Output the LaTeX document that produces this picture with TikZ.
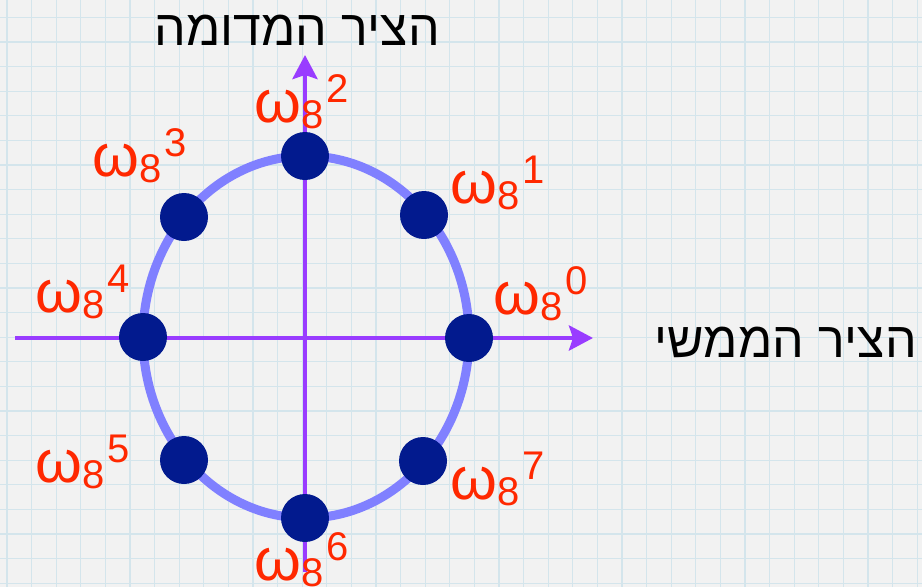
\documentclass[tikz,border=0pt]{standalone}
\usepackage{fontspec}
\setmainfont{Liberation Sans}
\usepackage{tikz}
\usetikzlibrary{arrows.meta}
\TeXXeTstate=1

\definecolor{paper}{RGB}{242,242,242}
\definecolor{gridblue}{RGB}{212,229,236}
\definecolor{ringblue}{RGB}{128,128,255}
\definecolor{dotnavy}{RGB}{2,26,142}
\definecolor{axispurple}{RGB}{153,60,255}
\definecolor{rootred}{RGB}{255,40,0}

% omega_8^k as the slide sets it
\newcommand{\wroot}[1]{\fontsize{60}{60}\selectfont ω\raisebox{-6pt}{\fontsize{40}{40}\selectfont 8}\kern3pt\raisebox{20pt}{\fontsize{40}{40}\selectfont #1}}

\tikzset{
  gridline/.style={gridblue, line width=1.3pt},
  ring/.style={ringblue, line width=9pt},
  axisline/.style={axispurple, line width=4.5pt, -{Stealth[length=24pt,width=25pt,inset=4pt]}},
  unitdot/.style={circle, fill=dotnavy, minimum size=48pt, inner sep=0pt},
  rootlabel/.style={rootred, anchor=base west, inner sep=0pt},
  axistext/.style={anchor=base east, inner sep=0pt, font=\fontsize{50}{50}\selectfont}
}

\begin{document}
\begin{tikzpicture}[x=1pt,y=-1pt]
\useasboundingbox (0,0) rectangle (922,587);
\fill[paper] (0,0) rectangle (922,587);
\foreach \gx in {0,...,37} \draw[gridline] ({7+24.6*\gx},0) -- ({7+24.6*\gx},587);
\foreach \gy in {0,...,23} \draw[gridline] (0,{17.4+24.6*\gy}) -- (922,{17.4+24.6*\gy});

% unit circle
\draw[ring] (306,337) ellipse [x radius=163, y radius=181];

% axes
\coordinate (xl) at (15,338);
\coordinate (xr) at (593,338);
\coordinate (yb) at (305,572);
\coordinate (yt) at (305,55);
\draw[axisline] (xl) -- (xr);
\draw[axisline] (yb) -- (yt);

% the eight roots
\node[unitdot] (r0) at (469,338) {};
\node[unitdot] (r1) at (424,215) {};
\node[unitdot] (r2) at (305,156) {};
\node[unitdot] (r3) at (184,217) {};
\node[unitdot] (r4) at (143,337) {};
\node[unitdot] (r5) at (184,460) {};
\node[unitdot] (r6) at (305,518) {};
\node[unitdot] (r7) at (423,461) {};

\node[rootlabel] (l0) at (493,314) {\wroot{0}};
\node[rootlabel] (l1) at (450,203) {\wroot{1}};
\node[rootlabel] (l2) at (254,122) {\wroot{2}};
\node[rootlabel] (l3) at (92,176) {\wroot{3}};
\node[rootlabel] (l4) at (35,312) {\wroot{4}};
\node[rootlabel] (l5) at (35,482) {\wroot{5}};
\node[rootlabel] (l6) at (254,580) {\wroot{6}};
\node[rootlabel] (l7) at (450,499) {\wroot{7}};

% axis names
\node[axistext] (imlab) at (440,45) {\beginR הציר המדומה\endR};
\node[axistext] (relab) at (917,357) {\beginR הציר הממשי\endR};
\end{tikzpicture}
\end{document}
